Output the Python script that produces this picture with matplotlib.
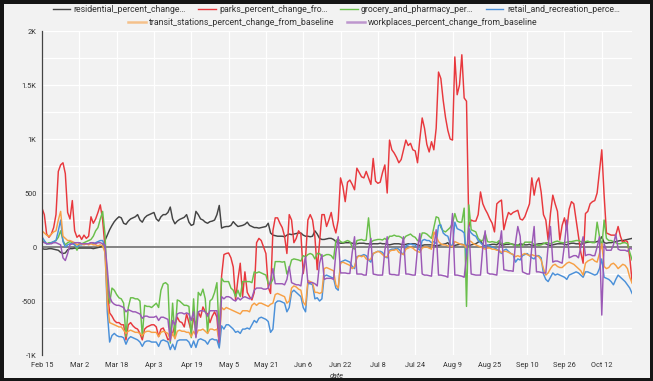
import matplotlib
matplotlib.use("Agg")
import matplotlib.pyplot as plt
from matplotlib.lines import Line2D
import numpy as np
import pandas as pd

plt.rcParams['font.family'] = ['Roboto', 'DejaVu Sans']

# daily values, one row per week (Sat..Fri), starting Sat Feb 15 2020
residential = [
    -15, -20, -20, -15, -15, -20, -25,
    -30, -50, -60, -55, -25, -15, -15,
    -10, -15, -10, -10, -10, -10, -10,
    -10, -15, -10, -5, 0, 10, 60,
    110, 160, 200, 235, 260, 280, 270,
    220, 210, 240, 260, 270, 280, 300,
    250, 230, 270, 290, 300, 310, 320,
    260, 240, 280, 300, 300, 320, 370,
    260, 215, 240, 255, 265, 275, 300,
    230, 200, 210, 330, 300, 260, 250,
    230, 220, 235, 240, 250, 300, 385,
    175, 185, 190, 190, 200, 235, 210,
    190, 195, 200, 210, 230, 200, 190,
    180, 180, 175, 180, 185, 190, 220,
    130, 110, 105, 100, 100, 100, 95,
    110, 120, 115, 120, 125, 130, 130,
    110, 100, 100, 95, 100, 150, 120,
    80, 70, 70, 75, 80, 80, 70,
    50, 40, 35, 35, 40, 40, 40,
    35, 30, 30, 35, 35, 35, 30,
    30, 25, 30, 30, 30, 35, 30,
    30, 25, 20, 25, 30, 30, 30,
    25, 20, 25, 30, 30, 30, 30,
    20, 15, 15, 20, 20, 20, 20,
    15, 10, 15, 20, 25, 30, 40,
    10, 0, 15, 20, 25, 25, 20,
    15, 10, 20, 25, 30, 45, 60,
    20, 10, 15, 20, 25, 25, 20,
    40, 15, 20, 25, 25, 30, 25,
    20, 15, 30, 25, 20, 20, 25,
    15, 15, 25, 30, 30, 35, 30,
    20, 15, 20, 25, 30, 30, 30,
    25, 20, 30, 35, 35, 30, 30,
    25, 30, 40, 45, 45, 45, 45,
    50, 60, 95, 40, 35, 40, 40,
    45, 50, 55, 60, 60, 65, 70,
    75, 80]

parks = [
    360, 300, 120, 90, 120, 180, 300,
    700, 760, 780, 680, 320, 260, 430,
    150, 90, 110, 70, 110, 80, 100,
    280, 220, 260, 320, 390, 250, 0,
    -400, -610, -640, -680, -700, -700, -720,
    -720, -860, -720, -700, -730, -750, -760,
    -800, -860, -760, -740, -730, -720, -720,
    -740, -830, -760, -750, -800, -860, -840,
    -800, -720, -650, -690, -700, -740, -620,
    -700, -780, -660, -720, -600, -650, -555,
    -600, -620, -700, -640, -600, -650, -920,
    -270, -70, -60, -55, -100, -185, -490,
    -300, -150, -460, -230, -420, -460, -490,
    -420, 40, 80, 60, 0, -60, -370,
    -430, 150, 270, 270, 220, 180, 100,
    -60, 300, 250, 40, 80, 150, 120,
    -245, -100, 250, 300, 250, 95, -210,
    50, 300, 300, 190, 250, 320, 200,
    130, 250, 640, 560, 420, 600, 620,
    580, 530, 730, 690, 650, 640, 700,
    640, 580, 820, 610, 590, 600, 690,
    760, 500, 990, 900, 870, 830, 780,
    810, 900, 990, 940, 960, 900, 890,
    780, 1000, 1195, 1100, 950, 880, 975,
    900, 1100, 1620, 1560, 1360, 1200, 1080,
    1000, 990, 1760, 1410, 1500, 1780, 1380,
    1350, 190, 250, 240, 240, 300, 510,
    400, 350, 310, 260, 220, 140, 400,
    420, 435, 160, 250, 320, 300, 320,
    330, 340, 260, 250, 280, 340, 400,
    640, 480, 600, 640, 510, 300, 250,
    65, 310, 480, 400, 330, 65, 200,
    270, 160, 350, 420, 400, 250, 100,
    -50, -150, 310, 330, 400, 420, 430,
    500, 700, 900, 480, 130, 120, 110,
    110, 110, 190, 100, 40, 60, 50,
    -100, -320]

grocery = [
    60, 50, 30, 40, 40, 50, 60,
    90, 150, 60, 20, 40, 50, 40,
    30, -30, 40, 30, 40, 50, 60,
    70, 100, 150, 180, 260, 330, 120,
    -330, -520, -380, -400, -440, -470, -480,
    -520, -830, -560, -470, -470, -480, -480,
    -500, -830, -540, -550, -550, -560, -540,
    -520, -560, -400, -340, -330, -350, -890,
    -520, -840, -490, -500, -520, -540, -540,
    -550, -840, -480, -830, -420, -450, -390,
    -480, -800, -500, -480, -420, -330, -830,
    -290, -320, -320, -320, -380, -400, -460,
    -400, -460, -320, -320, -320, -320, -330,
    -230, -240, -230, -240, -250, -260, -340,
    -340, -300, -135, -135, -135, -140, -135,
    -250, -200, -120, -110, -115, -120, -130,
    -80, -90, -70, -60, -70, -110, -60,
    -60, -90, -80, -70, -70, -80, -110,
    60, 75, 50, 40, 50, 60, 50,
    0, -20, 60, 65, 70, 60, 65,
    270, 40, 60, 65, 70, 70, 65,
    80, 60, 100, 100, 110, 100, 100,
    90, 70, 100, 110, 120, 100, 90,
    60, 50, 130, 130, 120, 100, 80,
    180, 280, 270, 180, 150, 140, 160,
    180, 220, 310, 240, 230, 230, 360,
    -550, 390, 160, 150, 140, 80, 60,
    60, 130, 50, 45, 50, 45, 40,
    60, 30, 30, 40, 40, 30, 20,
    10, 20, 10, 10, 45, 45, 45,
    45, 20, 20, 15, 20, 30, 40,
    40, 30, 40, 50, 55, 45, 40,
    40, 45, 50, 50, 55, 60, 60,
    50, 40, 50, 55, 45, 40, 40,
    230, 100, 0, 250, 80, 60, 60,
    50, 40, 30, 30, 40, 40, 30,
    -50, -120]

retail = [
    95, 60, 30, 30, 40, 50, 60,
    150, 250, 50, 0, 20, 30, 30,
    20, 0, 20, 20, 30, 30, 30,
    40, 30, 40, 50, 60, 60, 0,
    -600, -880, -820, -800, -820, -830, -830,
    -840, -900, -850, -830, -840, -850, -860,
    -880, -920, -880, -870, -870, -880, -880,
    -880, -920, -870, -860, -870, -880, -950,
    -900, -950, -870, -860, -860, -860, -860,
    -880, -930, -870, -930, -860, -850, -860,
    -870, -900, -860, -850, -860, -860, -935,
    -730, -760, -720, -720, -740, -760, -790,
    -780, -800, -760, -760, -750, -760, -720,
    -680, -700, -660, -650, -660, -670, -690,
    -790, -760, -520, -500, -500, -510, -520,
    -600, -560, -420, -400, -420, -440, -460,
    -560, -600, -340, -340, -350, -480, -470,
    -500, -480, -270, -260, -270, -280, -290,
    -380, -400, -140, -130, -120, -130, -140,
    -180, -200, -90, -80, -80, -70, -80,
    -120, -140, -60, -50, -40, -40, -50,
    -90, -100, -30, -20, -20, -10, -20,
    -50, -70, 10, 20, 30, 20, 20,
    -10, -30, 60, 70, 60, 60, 40,
    50, 30, 200, 205, 130, 110, 100,
    30, 0, 230, 170, 160, 150, 130,
    -90, 170, 130, 110, 100, 60, 40,
    20, 0, 20, 10, 0, -10, -20,
    -40, -60, -30, -20, -40, -60, -70,
    -140, -110, -120, -80, -70, -60, -80,
    -100, -110, -80, -80, -100, -250, -300,
    -320, -280, -240, -260, -250, -260, -270,
    -280, -300, -260, -250, -240, -230, -240,
    -260, -280, -230, -230, -240, -250, -260,
    -250, -200, -110, -280, -290, -300, -320,
    -350, -300, -260, -280, -300, -320, -350,
    -380, -430]

transit = [
    150, 130, 110, 100, 120, 140, 150,
    250, 330, 100, 80, 60, 60, 50,
    40, 20, 30, 30, 20, 30, 20,
    30, 20, 20, 10, 20, 10, -50,
    -500, -700, -710, -720, -730, -740, -740,
    -770, -800, -780, -770, -780, -790, -790,
    -800, -820, -790, -780, -780, -790, -790,
    -790, -830, -790, -780, -790, -800, -860,
    -800, -850, -780, -770, -780, -780, -790,
    -790, -830, -780, -820, -770, -770, -760,
    -780, -800, -760, -760, -770, -760, -860,
    -560, -580, -560, -570, -580, -590, -600,
    -610, -620, -590, -590, -590, -600, -540,
    -520, -540, -520, -520, -530, -540, -550,
    -530, -520, -440, -430, -440, -450, -460,
    -520, -500, -380, -360, -370, -390, -400,
    -510, -540, -310, -320, -330, -420, -420,
    -430, -420, -200, -190, -200, -210, -220,
    -350, -380, -150, -140, -150, -160, -170,
    -200, -180, -100, -80, -90, -80, -110,
    -120, -110, -60, -50, -40, -50, -70,
    -90, -90, -40, -30, -30, -20, -50,
    -60, -70, -20, -10, 0, -10, -30,
    -40, -50, -10, 0, 0, -10, -20,
    140, 100, 50, 30, 20, 20, 10,
    10, 0, 50, 40, 30, 20, 20,
    -10, 60, 50, 30, 20, 10, 0,
    -10, -20, -10, -10, -20, -20, -30,
    -30, -50, -40, -40, -50, -60, -70,
    -90, -80, -90, -70, -60, -70, -80,
    -70, -80, -80, -90, -120, -200, -260,
    -240, -200, -170, -160, -180, -190, -190,
    -170, -150, -140, -150, -160, -180, -200,
    -220, -260, -150, -130, -120, -110, -130,
    -140, -60, 30, -180, -200, -190, -160,
    -150, -170, -200, -180, -160, -170, -200,
    -280, -335]

workplaces = [
    50, 40, 30, 30, 30, 40, 40,
    30, 20, -100, -125, -60, 20, 30,
    40, 40, 40, 30, 30, 30, 30,
    40, 40, 30, 40, 40, 30, 20,
    -200, -460, -510, -530, -540, -540, -550,
    -560, -600, -580, -590, -600, -600, -610,
    -620, -660, -640, -640, -650, -650, -650,
    -640, -680, -650, -650, -660, -670, -870,
    -680, -720, -620, -610, -610, -620, -610,
    -620, -680, -600, -840, -600, -590, -590,
    -600, -640, -590, -590, -590, -590, -880,
    -460, -480, -460, -460, -470, -490, -500,
    -470, -490, -470, -460, -470, -480, -470,
    -400, -380, -380, -380, -390, -390, -380,
    -310, -200, -340, -340, -340, -340, -350,
    -300, -180, -330, -340, -350, -350, -360,
    -200, -90, -330, -330, -330, -340, -360,
    -150, -70, -300, -290, -290, -290, -300,
    -50, 95, -240, -240, -240, -245, -245,
    -50, 95, -250, -250, -250, -260, -260,
    -30, 80, -250, -255, -260, -260, -260,
    -30, 95, -250, -255, -255, -260, -260,
    -20, 95, -250, -250, -255, -260, -260,
    -10, 125, -250, -260, -260, -265, -270,
    0, 160, -260, -260, -265, -270, -280,
    60, 310, -260, -260, -265, -270, -280,
    -90, 200, -250, -255, -260, -260, -260,
    0, 150, -240, -250, -250, -255, -260,
    0, 150, -210, -215, -220, -220, -225,
    40, 190, 100, -230, -240, -250, -250,
    0, 190, -230, -230, -235, -240, -240,
    10, 190, -140, -130, -130, -140, -150,
    20, 250, -100, -90, -80, -80, -100,
    0, 95, -80, -70, -70, -80, -80,
    0, 95, -630, 30, -30, -30, -30,
    20, 120, -20, -30, -30, -30, -40,
    -10, -20]

labels = ['residential_percent_change…', 'parks_percent_change_fro…',
          'grocery_and_pharmacy_per…', 'retail_and_recreation_perce…',
          'transit_stations_percent_change_from_baseline',
          'workplaces_percent_change_from_baseline']
colors = ['#444444', '#e8383d', '#6abf4b', '#4a90d9', '#f7a045', '#9b59b6']
series = [residential, parks, grocery, retail, transit, workplaces]

dates = pd.date_range('2020-02-15', periods=len(residential), freq='D')

bg = '#f2f2f2'
fig = plt.figure(figsize=(6.53, 3.81), dpi=100, facecolor=bg)
fig.patch.set_edgecolor('#151515')
fig.patch.set_linewidth(5)
ax = fig.add_axes([0.0643, 0.0682, 0.9037, 0.8504])
ax.set_facecolor(bg)

for vals, c in zip(series, colors):
    ax.plot(dates, vals, color=c, lw=1.05, solid_joinstyle='round')

ax.axhline(0, color='#7a7a7a', lw=1.3, zorder=1)

ax.set_xlim(dates[0], dates[-1])
ax.set_ylim(-1000, 2000)
ax.set_yticks([-1000, -500, 0, 500, 1000, 1500, 2000])
ax.set_yticklabels(['-1K', '-500', '0', '500', '1K', '1.5K', '2K'])
ax.set_yticks(np.arange(-750, 2000, 500), minor=True)
xt = dates[::16][:16]
ax.set_xticks(xt)
ax.set_xticklabels([f"{d:%b} {d.day}" for d in xt])

ax.grid(True, which='both', color='white', lw=0.9, zorder=0)
ax.set_axisbelow(True)
ax.tick_params(axis='both', which='both', length=0, labelsize=5.3, colors='#333333')
ax.tick_params(axis='y', pad=4)
ax.tick_params(axis='x', pad=5)
for s in ['top', 'right', 'bottom']:
    ax.spines[s].set_visible(False)
ax.spines['left'].set_color('#444444')
ax.spines['left'].set_linewidth(0.9)
ax.set_xlabel('date', fontsize=5.3, style='italic', color='#333333', labelpad=3)

h1 = [Line2D([], [], color=c, lw=1.0) for c in colors[:4]]
h2 = [Line2D([], [], color=colors[4], lw=1.8, alpha=0.6),
      Line2D([], [], color=colors[5], lw=1.8, alpha=0.6)]
fig.legend(h1, labels[:4], loc='center', bbox_to_anchor=(0.515, 0.975), ncol=4,
           frameon=False, fontsize=6.3, handlelength=2.0, handletextpad=0.4,
           columnspacing=1.4, labelcolor='#333333')
fig.legend(h2, labels[4:], loc='center', bbox_to_anchor=(0.51, 0.941), ncol=2,
           frameon=False, fontsize=6.3, handlelength=2.0, handletextpad=0.4,
           columnspacing=1.4, labelcolor='#333333')

fig.savefig('out.png', dpi=100, facecolor=bg, edgecolor=fig.get_edgecolor())
